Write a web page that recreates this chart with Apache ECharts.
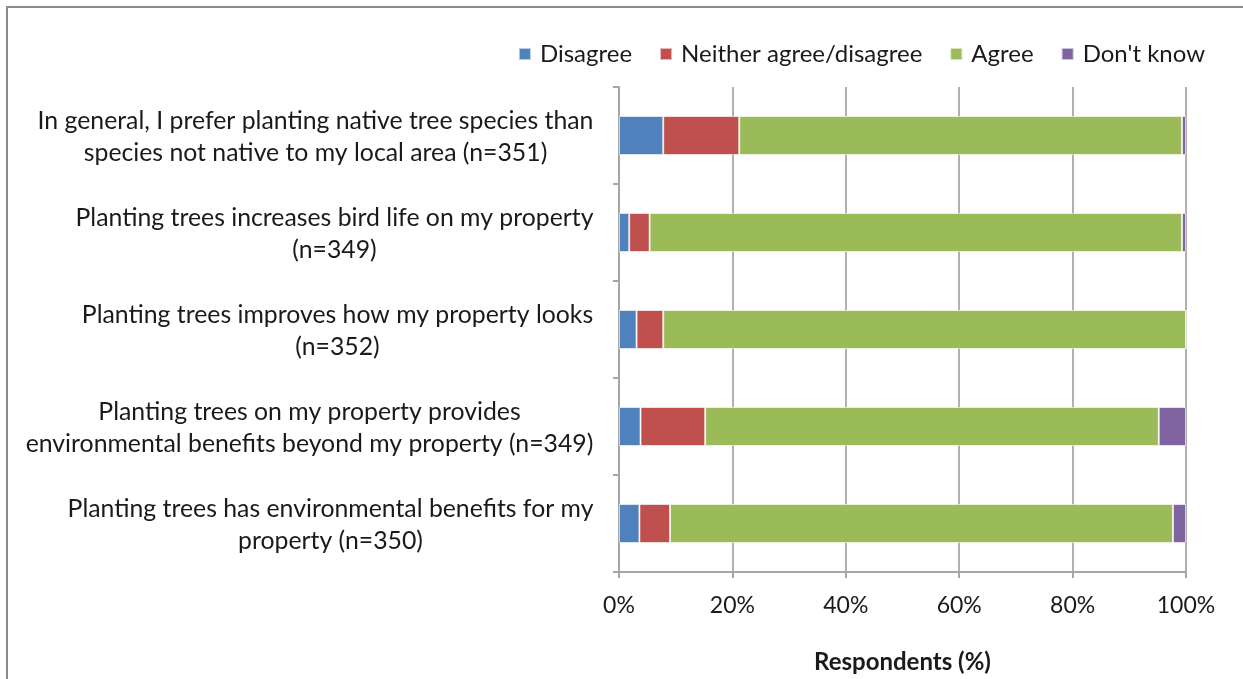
<!DOCTYPE html>
<html>
<head>
<meta charset="utf-8">
<script src="https://cdn.jsdelivr.net/npm/echarts@6/dist/echarts.min.js"></script>
<style>
  html, body { margin: 0; padding: 0; background: #fff; }
  #chart { width: 1243px; height: 679px; }
</style>
</head>
<body>
<div id="chart"></div>
<script>
// Statements, listed top to bottom as they appear
const statements = [
  'In general, I prefer planting native tree species than\nspecies not native to my local area (n=351)',
  'Planting trees increases bird life on my property\n(n=349)',
  'Planting trees improves how my property looks\n(n=352)',
  'Planting trees on my property provides\nenvironmental benefits beyond my property (n=349)',
  'Planting trees has environmental benefits for my\nproperty (n=350)'
];

// Share of respondents (%) per response
const disagree = [7.8, 1.8, 3.1, 3.8, 3.6];
const neither  = [13.4, 3.6, 4.7, 11.4, 5.4];
const agree    = [78.1, 93.9, 92.2, 80.0, 88.7];
const dontKnow = [0.7, 0.7, 0.0, 4.8, 2.3];

const seriesNames = ['Disagree', 'Neither agree/disagree', 'Agree', "Don't know"];
const seriesColors = ['#4f81bd', '#c0504d', '#9bbb59', '#8064a2'];
const seriesData = [disagree, neither, agree, dontKnow];

const FONT = 'Lato, "Open Sans", sans-serif';
const TEXT = '#1a1a1a';
const CAT_SIZE = 24.8;

// Each statement block is right-aligned against the axis, with its lines
// centred inside the block: give every label a rich style as wide as its
// longest line.
const measureCtx = document.createElement('canvas').getContext('2d');
measureCtx.font = CAT_SIZE + 'px ' + FONT;
const catRich = {};
statements.forEach((s, i) => {
  const w = Math.max(...s.split('\n').map(line => measureCtx.measureText(line).width));
  catRich['c' + i] = {
    width: Math.ceil(w) + 1,
    align: 'center',
    fontFamily: FONT, fontSize: CAT_SIZE, color: TEXT, lineHeight: 32
  };
});

const chart = echarts.init(document.getElementById('chart'), null, { renderer: 'canvas' });

chart.setOption({
  backgroundColor: '#ffffff',
  animation: false,
  textStyle: { fontFamily: FONT },
  graphic: [{
    type: 'rect',
    shape: { x: 7, y: 7, width: 1260, height: 700 },
    style: { fill: 'none', stroke: '#8c8c8c', lineWidth: 2 },
    silent: true
  }],
  legend: {
    data: seriesNames,
    top: 37,
    right: 33,
    itemWidth: 12,
    itemHeight: 12,
    itemGap: 27,
    icon: 'rect',
    textStyle: { fontFamily: FONT, fontSize: 24, color: TEXT, padding: [0, 0, 0, 4] }
  },
  grid: { left: 619, right: 57, top: 87, bottom: 105, containLabel: false },
  xAxis: {
    type: 'value',
    min: 0,
    max: 100,
    interval: 20,
    name: 'Respondents (%)',
    nameLocation: 'middle',
    nameGap: 78,
    nameTextStyle: { fontFamily: FONT, fontSize: 24, fontWeight: 'bold', color: TEXT },
    axisLine: { show: true, lineStyle: { color: '#a6a6a6', width: 2 } },
    axisTick: { show: true, length: 6, lineStyle: { color: '#a6a6a6', width: 2 } },
    axisLabel: {
      margin: 22,
      fontFamily: FONT, fontSize: 23, color: TEXT,
      formatter: v => v + '%'
    },
    splitLine: { show: true, lineStyle: { color: '#b0b0b0', width: 2 } }
  },
  yAxis: {
    type: 'category',
    data: statements,
    inverse: true,
    axisLine: { show: true, lineStyle: { color: '#a6a6a6', width: 2 } },
    axisTick: { show: true, length: 6, lineStyle: { color: '#a6a6a6', width: 2 } },
    axisLabel: {
      margin: 25,
      align: 'right',
      padding: [4, 0, 0, 0],
      formatter: (value, index) =>
        value.split('\n').map(line => '{c' + index + '|' + line + '}').join('\n'),
      rich: catRich
    },
    splitLine: { show: false }
  },
  series: seriesNames.map((name, i) => ({
    name: name,
    type: 'bar',
    stack: 'total',
    barWidth: 39,
    data: seriesData[i],
    itemStyle: { color: seriesColors[i], borderColor: 'rgba(255,255,255,0.6)', borderWidth: 1 },
    emphasis: { disabled: true }
  }))
});
</script>
</body>
</html>
